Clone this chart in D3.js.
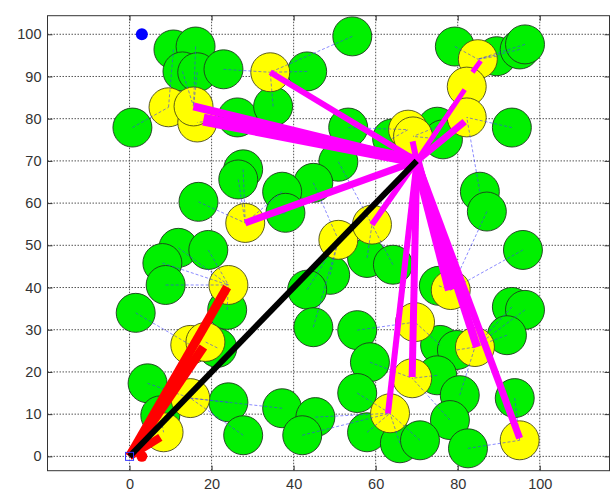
<!DOCTYPE html>
<html>
<head>
<meta charset="utf-8">
<script src="https://cdn.jsdelivr.net/npm/d3@7"></script>
<style>
  body { margin: 0; background: #fff; }
  svg { display: block; }
  .tick text { font-family: "Liberation Sans", Arial, sans-serif; font-size: 14.5px; fill: #333; }
</style>
</head>
<body>
<div id="chart"></div>
<script>
// ordinary sensor nodes (x, y)
var greenNodes = [
  [10.7,96.4],[16.1,97.1],[12.9,91.2],[16.5,91.0],[22.9,91.7],[0.7,77.9],[26.3,80.3],[27.7,68.0],[26.5,65.6],[16.8,60.3],
  [54.3,99.5],[43.3,91.2],[35.0,82.9],[53.3,77.9],[50.9,69.8],[44.8,64.8],[37.2,62.7],[38.0,57.7],[64.0,75.3],
  [79.3,97.1],[89.5,94.8],[95.1,96.4],[96.4,97.6],[93.2,77.9],[75.0,78.1],[76.4,75.1],[85.4,62.7],[87.1,58.0],[95.9,48.9],
  [75.4,40.4],[93.2,35.4],[96.4,34.7],[92.0,28.7],[75.7,26.4],[79.8,25.2],[75.0,19.2],[80.5,14.5],[93.9,13.8],[78.1,8.6],[82.5,1.9],
  [48.9,43.0],[57.9,47.0],[64.2,45.4],[43.3,39.5],[44.8,30.6],[55.5,29.9],[58.6,22.3],[55.5,15.0],[37.2,11.4],[45.3,9.3],
  [42.1,5.0],[57.9,5.7],[65.9,3.1],[70.8,3.8],
  [11.9,49.4],[19.2,48.9],[8.0,45.8],[8.8,40.6],[23.8,34.7],[1.5,34.0],[21.4,25.7],[4.4,17.3],[24.1,12.8],[27.7,5.0],[7.5,9.7]
];

// cluster heads (x, y)
var yellowNodes = [
  [34.3,91.0],[9.5,82.7],[16.5,79.1],[15.6,82.9],[28.2,55.3],[50.9,51.3],[59.1,54.9],[67.9,77.4],[69.1,75.8],
  [84.9,94.1],[82.2,87.6],[82.2,80.3],[78.3,39.4],[84.2,25.9],[69.6,31.8],[68.9,18.5],[63.5,10.2],[95.1,3.8],
  [24.1,40.6],[14.8,26.4],[18.5,27.1],[14.8,13.8],[8.3,5.7]
];

var hubA = [0, 0];     // sink
var hubB = [70, 70];   // relay
var blueDot = [3, 100];
var redDot = [3, 0];

// relay -> head links: end x, end y, flow
var magentaLinks = [
  [34.3,91.0,6],[15.6,82.9,8],[18.0,79.8,12],[28.2,55.3,7],[59.1,54.9,6],[69.0,74.6,6],
  [81.7,79.3,7],[81.7,86.9,5],[63.0,10.2,6],[68.9,18.8,7],[78.1,39.4,10],[84.7,25.9,8],[95.1,4.3,7]
];
// short head-to-head hop: x1, y1, x2, y2, flow
var magentaHops = [[83.6,91.0,85.6,93.7,5]];
// sink -> head links: end x, end y, flow
var redLinks = [[23.8,40.1,9],[18.0,25.9,9],[7.5,4.5,8]];
var blackLinks = [[0,0,70,70,6]];

var xTicks = [0, 20, 40, 60, 80, 100];
var yTicks = [0, 10, 20, 30, 40, 50, 60, 70, 80, 90, 100];

var W = 616, H = 493;
var pL = 47.5, pR = 609.5, pT = 15.7, pB = 470.7;

var x = d3.scaleLinear().domain([-20, 117]).range([pL, pR]);
var y = d3.scaleLinear().domain([-3.4, 104.4]).range([pB, pT]);
var w = d3.scaleLinear().domain([0, 10]).range([0, 10]);
var R = x(4.75) - x(0);

var svg = d3.select('#chart').append('svg').attr('width', W).attr('height', H);

// grid
var grid = svg.append('g');
grid.selectAll('.gx').data(xTicks).enter().append('line')
  .attr('x1', function(d) { return x(d); }).attr('x2', function(d) { return x(d); })
  .attr('y1', pT).attr('y2', pB);
grid.selectAll('.gy').data(yTicks).enter().append('line')
  .attr('y1', function(d) { return y(d); }).attr('y2', function(d) { return y(d); })
  .attr('x1', pL).attr('x2', pR);
grid.selectAll('line').attr('stroke', '#555').attr('stroke-width', 1).attr('stroke-dasharray', '1.5,1.5');

// axes (ticks inside, like matlab)
function styleAxis(g) {
  g.select('.domain').remove();
  g.selectAll('.tick line').attr('stroke', '#333');
}
svg.append('g').attr('transform', 'translate(0,' + pB + ')')
  .call(d3.axisBottom(x).tickValues(xTicks).tickSizeInner(-5).tickSizeOuter(0).tickPadding(8))
  .call(styleAxis);
svg.append('g').attr('transform', 'translate(0,' + pT + ')')
  .call(d3.axisTop(x).tickValues(xTicks).tickSizeInner(-5).tickFormat(''))
  .call(styleAxis);
svg.append('g').attr('transform', 'translate(' + pL + ',0)')
  .call(d3.axisLeft(y).tickValues(yTicks).tickSizeInner(-5).tickSizeOuter(0).tickPadding(6))
  .call(styleAxis);
svg.append('g').attr('transform', 'translate(' + pR + ',0)')
  .call(d3.axisRight(y).tickValues(yTicks).tickSizeInner(-5).tickFormat(''))
  .call(styleAxis);

svg.append('rect').attr('x', pL).attr('y', pT)
  .attr('width', pR - pL).attr('height', pB - pT)
  .attr('fill', 'none').attr('stroke', '#333').attr('stroke-width', 1);

var plot = svg.append('g');

// nodes
plot.selectAll('.green').data(greenNodes).enter().append('circle')
  .attr('cx', function(d) { return x(d[0]); }).attr('cy', function(d) { return y(d[1]); })
  .attr('r', R).attr('fill', '#00f000').attr('stroke', '#1e3a1e').attr('stroke-width', 0.9);
plot.selectAll('.yellow').data(yellowNodes).enter().append('circle')
  .attr('cx', function(d) { return x(d[0]); }).attr('cy', function(d) { return y(d[1]); })
  .attr('r', R).attr('fill', '#ffff00').attr('stroke', '#4a4a1a').attr('stroke-width', 0.9);

// thin membership links: every node to its nearest cluster head
function nearestHead(p) {
  var best = null, bd = Infinity;
  yellowNodes.forEach(function(h) {
    var dd = (h[0]-p[0])*(h[0]-p[0]) + (h[1]-p[1])*(h[1]-p[1]);
    if (dd > 0 && dd < bd) { bd = dd; best = h; }
  });
  return best;
}
plot.selectAll('.member').data(greenNodes).enter().append('line')
  .attr('x1', function(d) { return x(d[0]); }).attr('y1', function(d) { return y(d[1]); })
  .attr('x2', function(d) { return x(nearestHead(d)[0]); })
  .attr('y2', function(d) { return y(nearestHead(d)[1]); })
  .attr('stroke', '#3a3aff').attr('stroke-width', 0.8).attr('stroke-opacity', 0.75)
  .attr('stroke-dasharray', '3,2');

// thick links
plot.selectAll('.mag').data(magentaLinks).enter().append('line')
  .attr('x1', x(hubB[0])).attr('y1', y(hubB[1]))
  .attr('x2', function(d) { return x(d[0]); }).attr('y2', function(d) { return y(d[1]); })
  .attr('stroke', '#ff00ff').attr('stroke-width', function(d) { return w(d[2]); });
plot.selectAll('.hop').data(magentaHops).enter().append('line')
  .attr('x1', function(d) { return x(d[0]); }).attr('y1', function(d) { return y(d[1]); })
  .attr('x2', function(d) { return x(d[2]); }).attr('y2', function(d) { return y(d[3]); })
  .attr('stroke', '#ff00ff').attr('stroke-width', function(d) { return w(d[4]); });
plot.selectAll('.red').data(redLinks).enter().append('line')
  .attr('x1', x(hubA[0])).attr('y1', y(hubA[1]))
  .attr('x2', function(d) { return x(d[0]); }).attr('y2', function(d) { return y(d[1]); })
  .attr('stroke', '#ff0000').attr('stroke-width', function(d) { return w(d[2]); });
plot.selectAll('.black').data(blackLinks).enter().append('line')
  .attr('x1', function(d) { return x(d[0]); }).attr('y1', function(d) { return y(d[1]); })
  .attr('x2', function(d) { return x(d[2]); }).attr('y2', function(d) { return y(d[3]); })
  .attr('stroke', '#000').attr('stroke-width', function(d) { return w(d[4]); });

// markers
plot.append('circle').attr('cx', x(blueDot[0])).attr('cy', y(blueDot[1])).attr('r', 6).attr('fill', '#0000ff');
plot.append('circle').attr('cx', x(redDot[0])).attr('cy', y(redDot[1])).attr('r', 5.5).attr('fill', '#ff0000');
plot.append('rect').attr('x', x(hubA[0]) - 4).attr('y', y(hubA[1]) - 4).attr('width', 8).attr('height', 8)
  .attr('fill', 'none').attr('stroke', '#3333ff').attr('stroke-width', 1);
</script>
</body>
</html>
